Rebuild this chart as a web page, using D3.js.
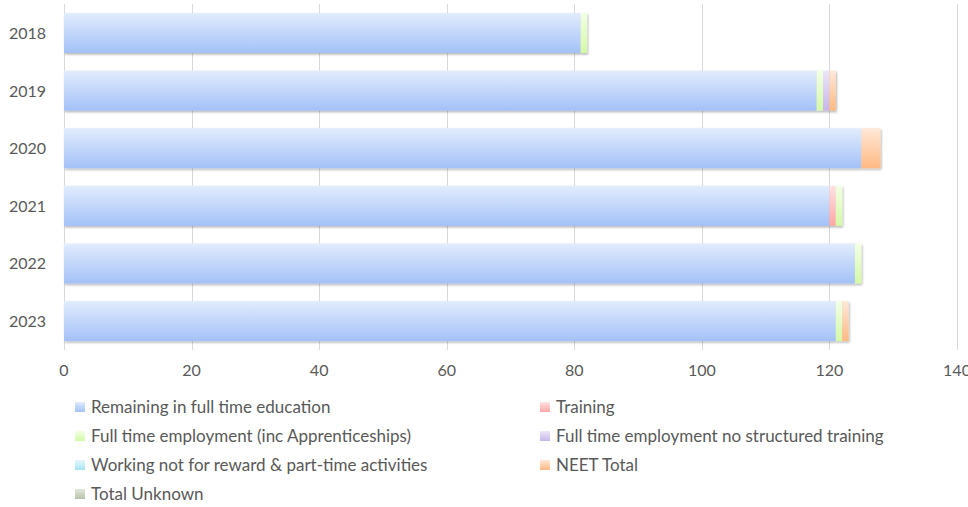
<!DOCTYPE html>
<html><head><meta charset="utf-8">
<script src="https://cdn.jsdelivr.net/npm/d3@7"></script>
<style>body{margin:0;background:#fff}text{font-family:Lato,"Open Sans",sans-serif;fill:#595959}</style>
</head><body><svg id="c" width="968" height="507"></svg>
<script>
const years = ["2018","2019","2020","2021","2022","2023"];
const seriesNames = ["Remaining in full time education","Training","Full time employment (inc Apprenticeships)","Full time employment no structured training","Working not for reward & part-time activities","NEET Total","Total Unknown"];
const remaining = [81,118,125,120,124,121];
const training  = [0,0,0,1,0,0];
const ftEmploy  = [1,1,0,1,1,1];
const ftNoTrain = [0,1,0,0,0,0];
const working   = [0,0,0,0,0,0];
const neet      = [0,1,3,0,0,1];
const unknown   = [0,0,0,0,0,0];
const xTicks = [0,20,40,60,80,100,120,140];

const seriesVals = [remaining,training,ftEmploy,ftNoTrain,working,neet,unknown];
const grads = [["#e2ecfd","#a3c1f8"],["#ffe2e2","#ffa6a6"],["#f3ffe6","#d5f9a6"],["#ece6f8","#c6b6ea"],["#e6f8fd","#a6e4f6"],["#ffe8d8","#ffb982"],["#e4e8dc","#b8c2a8"]];

const svg = d3.select("#c");
const m = {l:64, r:957, t:4, b:350};
const x = d3.scaleLinear().domain([0,140]).range([m.l,m.r]);
const y = d3.scaleBand().domain(years).range([m.t,m.b]).paddingInner(0.305).paddingOuter(0.155);

const defs = svg.append("defs");
grads.forEach((g,i)=>{
  const lg = defs.append("linearGradient").attr("id","g"+i).attr("x1",0).attr("y1",0).attr("x2",0).attr("y2",1);
  lg.append("stop").attr("offset","0%").attr("stop-color",g[0]);
  lg.append("stop").attr("offset","100%").attr("stop-color",g[1]);
});
const f = defs.append("filter").attr("id","sh").attr("x","-5%").attr("y","-20%").attr("width","110%").attr("height","150%");
f.append("feDropShadow").attr("dx",1).attr("dy",1.5).attr("stdDeviation",1).attr("flood-color","#000").attr("flood-opacity",0.3);

// gridlines
svg.append("g").selectAll("line").data(xTicks).join("line")
  .attr("x1",d=>Math.round(x(d))+0.5).attr("x2",d=>Math.round(x(d))+0.5)
  .attr("y1",m.t).attr("y2",m.b).attr("stroke","#d9d9d9").attr("stroke-width",1);

// x tick labels
svg.append("g").selectAll("text").data(xTicks).join("text")
  .attr("x",d=>x(d)).attr("y",376).attr("text-anchor","middle").attr("font-size",16).text(d=>d);

// y labels
svg.append("g").selectAll("text").data(years).join("text")
  .attr("x",46).attr("y",d=>y(d)+y.bandwidth()/2+6).attr("text-anchor","end").attr("font-size",16).text(d=>d);

// stacked bars
const table = years.map((yr,i)=>{const o={year:yr}; seriesNames.forEach((s,j)=>o[s]=seriesVals[j][i]); return o;});
const stack = d3.stack().keys(seriesNames)(table);
const barsG = svg.append("g");
years.forEach((yr,i)=>{
  const g = barsG.append("g").attr("filter","url(#sh)");
  stack.forEach((layer,j)=>{
    const d = layer[i];
    if(d[1]-d[0] <= 0) return;
    g.append("rect").attr("x",x(d[0])).attr("width",x(d[1])-x(d[0]))
      .attr("y",y(yr)).attr("height",y.bandwidth()).attr("fill","url(#g"+j+")");
  });
});

// legend
const legPos = [[75,407],[540,407],[75,436],[540,436],[75,465],[540,465],[75,494]];
const leg = svg.append("g");
seriesNames.forEach((s,j)=>{
  const [lx,ly] = legPos[j];
  leg.append("rect").attr("x",lx).attr("y",ly-5).attr("width",10).attr("height",10).attr("fill","url(#g"+j+")");
  leg.append("text").attr("x",lx+16).attr("y",ly+6).attr("font-size",17).text(s);
});
</script></body></html>
